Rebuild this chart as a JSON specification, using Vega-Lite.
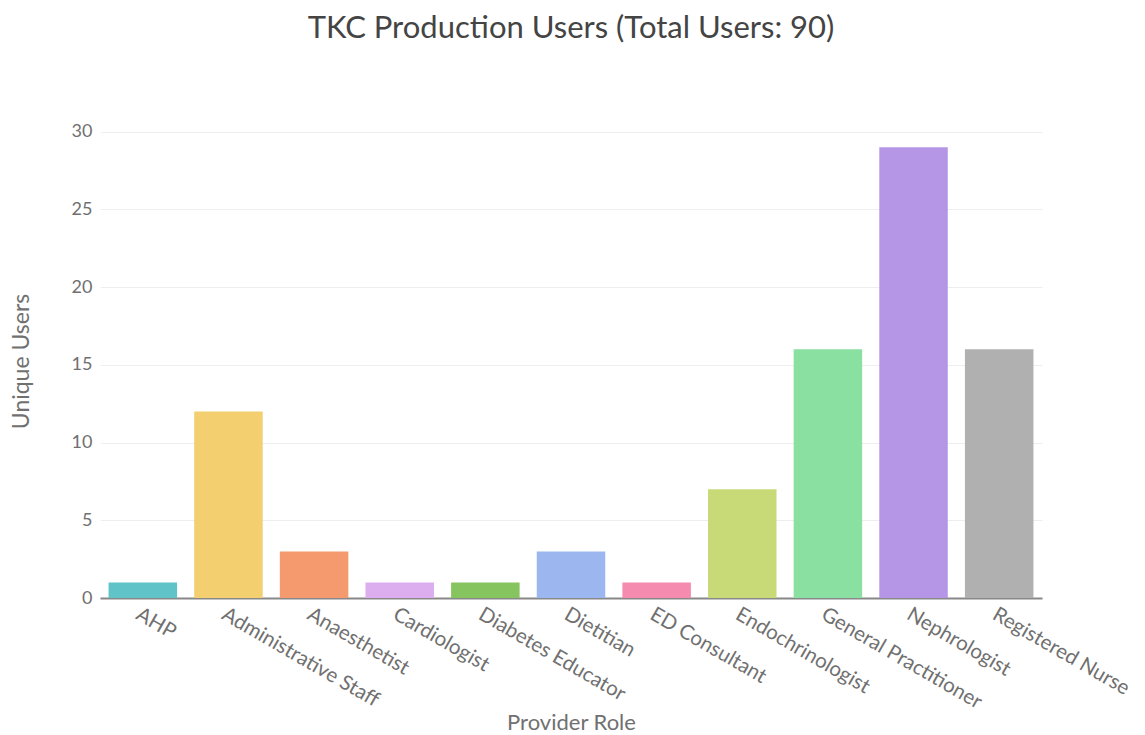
{
  "$schema": "https://vega.github.io/schema/vega-lite/v6.json",
  "width": 942,
  "height": 474,
  "autosize": {"type": "none"},
  "padding": {"left": 100, "top": 124, "right": 103, "bottom": 137},
  "background": "white",
  "config": {"font": "Lato", "view": {"stroke": null}},
  "title": {
    "text": "TKC Production Users (Total Users: 90)",
    "font": "Lato",
    "fontSize": 31,
    "fontWeight": "normal",
    "color": "#444444",
    "anchor": "middle",
    "frame": "group",
    "offset": 78
  },
  "data": {
    "values": [
      {"role": "AHP", "users": 1, "color": "#5fc3c8"},
      {"role": "Administrative Staff", "users": 12, "color": "#f3cf6f"},
      {"role": "Anaesthetist", "users": 3, "color": "#f49a6e"},
      {"role": "Cardiologist", "users": 1, "color": "#dcaef0"},
      {"role": "Diabetes Educator", "users": 1, "color": "#85c45f"},
      {"role": "Dietitian", "users": 3, "color": "#9cb7f0"},
      {"role": "ED Consultant", "users": 1, "color": "#f68bb0"},
      {"role": "Endochrinologist", "users": 7, "color": "#c8da78"},
      {"role": "General Practitioner", "users": 16, "color": "#8ae0a0"},
      {"role": "Nephrologist", "users": 29, "color": "#b596e6"},
      {"role": "Registered Nurse", "users": 16, "color": "#b0b0b0"}
    ]
  },
  "mark": {"type": "bar"},
  "encoding": {
    "x": {
      "field": "role",
      "type": "nominal",
      "sort": null,
      "scale": {"paddingInner": 0.2, "paddingOuter": 0.1},
      "axis": {
        "title": "Provider Role",
        "titleFont": "Lato",
        "titleFontSize": 22,
        "titleFontWeight": "normal",
        "titleColor": "#707070",
        "titlePadding": 0,
        "labelAngle": 30,
        "labelAlign": "left",
        "labelBaseline": "top",
        "labelFontSize": 20.5,
        "labelColor": "#707070",
        "labelPadding": 6,
        "labelLimit": 400,
        "ticks": false,
        "domainColor": "#888888",
        "domainWidth": 2,
        "grid": false
      }
    },
    "y": {
      "field": "users",
      "type": "quantitative",
      "scale": {"domain": [0, 30.5], "nice": false},
      "axis": {
        "title": "Unique Users",
        "titleFont": "Lato",
        "titleFontSize": 23,
        "titleFontWeight": "normal",
        "titleColor": "#707070",
        "titlePadding": 38,
        "values": [0, 5, 10, 15, 20, 25, 30],
        "labelFontSize": 18,
        "labelColor": "#707070",
        "labelPadding": 8,
        "ticks": false,
        "domain": false,
        "gridColor": "#eeeeee",
        "gridWidth": 1
      }
    },
    "color": {"field": "color", "type": "nominal", "scale": null, "legend": null}
  }
}
